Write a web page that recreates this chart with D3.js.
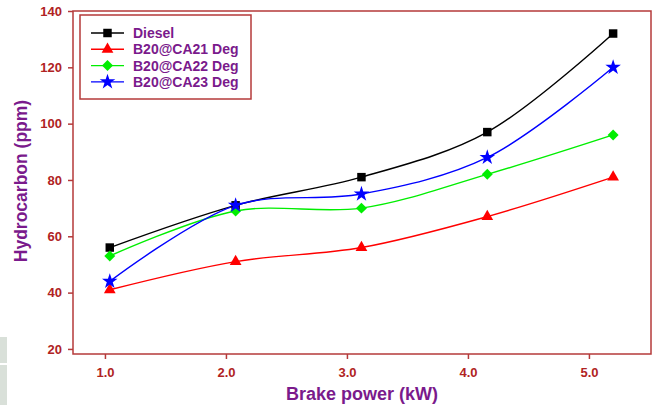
<!DOCTYPE html>
<html><head><meta charset="utf-8">
<script src="https://cdn.jsdelivr.net/npm/d3@7/dist/d3.min.js"></script>
<style>body{margin:0;background:#fff}svg{display:block}</style>
</head><body><svg id="c" width="656" height="405"></svg>
<script>
const brakePower = [1.04, 2.08, 3.12, 4.16, 5.2];
const diesel = [56, 71, 81, 97, 132];
const ca21 = [41, 51, 56, 67, 81];
const ca22 = [53, 69, 70, 82, 96];
const ca23 = [44, 71, 75, 88, 120];
const seriesNames = ["Diesel", "B20@CA21 Deg", "B20@CA22 Deg", "B20@CA23 Deg"];
const seriesColors = ["#000000", "#ff0000", "#00ee00", "#0000ff"];
const xTicks = [1, 2, 3, 4, 5];
const yTicks = [20, 40, 60, 80, 100, 120, 140];

const diamondSym = { draw(ctx, size) { const r = Math.sqrt(size/2); ctx.moveTo(0,-r); ctx.lineTo(r,0); ctx.lineTo(0,r); ctx.lineTo(-r,0); ctx.closePath(); } };
const seriesSymbols = [d3.symbolSquare, d3.symbolTriangle, diamondSym, d3.symbolStar];
const sizes = [72, 60, 60, 75];

const svg = d3.select("#c");
const frameCol = "#b53a3a", tickCol = "#b02323", titleCol = "#7a1a8c";
const font = "Liberation Sans, Arial, sans-serif";
const L = 73, R = 651, T = 11, B = 354;
const x = d3.scaleLinear().domain([0.736, 5.513]).range([L, R]);
const y = d3.scaleLinear().domain([18.2, 140]).range([B, T]);

svg.append("rect").attr("x",0).attr("y",337).attr("width",7).attr("height",26).attr("fill","#d9e0d9");
svg.append("rect").attr("x",0).attr("y",365).attr("width",7).attr("height",40).attr("fill","#d9e0d9");

svg.append("rect").attr("x",L).attr("y",T).attr("width",R-L).attr("height",B-T)
  .attr("fill","none").attr("stroke",frameCol).attr("stroke-width",1.5);

const xa = svg.append("g").attr("transform",`translate(0,${B})`)
  .call(d3.axisBottom(x).tickValues(xTicks).tickFormat(d3.format(".1f")).tickSize(5).tickSizeOuter(0).tickPadding(9));
const ya = svg.append("g").attr("transform",`translate(${L},0)`)
  .call(d3.axisLeft(y).tickValues(yTicks).tickSize(5).tickSizeOuter(0).tickPadding(6));
[xa, ya].forEach(a => {
  a.select(".domain").remove();
  a.selectAll("line").attr("stroke",frameCol).attr("stroke-width",1.5);
  a.selectAll("text").attr("fill",tickCol).attr("font-family",font)
    .attr("font-weight","bold").attr("font-size",13);
});

svg.append("text").attr("x",362).attr("y",400).attr("text-anchor","middle")
  .attr("fill",titleCol).attr("font-family",font)
  .attr("font-weight","bold").attr("font-size",18).text("Brake power (kW)");
svg.append("text").attr("transform","translate(27,181) rotate(-90)").attr("text-anchor","middle")
  .attr("fill",titleCol).attr("font-family",font)
  .attr("font-weight","bold").attr("font-size",17.5).text("Hydrocarbon (ppm)");

const allSeries = [diesel, ca21, ca22, ca23];
const line = d3.line().x((d,i)=>x(brakePower[i])).y(d=>y(d)).curve(d3.curveCatmullRom.alpha(0.5));
allSeries.forEach((s, k) => {
  svg.append("path").attr("d", line(s)).attr("fill","none").attr("stroke",seriesColors[k]).attr("stroke-width",1.4);
});
allSeries.forEach((s, k) => {
  svg.selectAll(null).data(s).enter().append("path")
    .attr("transform",(d,i)=>`translate(${x(brakePower[i])},${y(d)})`)
    .attr("d", d3.symbol().type(seriesSymbols[k]).size(sizes[k])())
    .attr("fill", seriesColors[k]);
});

const lg = svg.append("g");
lg.append("rect").attr("x",80).attr("y",15).attr("width",171).attr("height",84)
  .attr("fill","white").attr("stroke",frameCol).attr("stroke-width",1.5);
seriesNames.forEach((n, k) => {
  const yy = 33 + k*16.3;
  lg.append("line").attr("x1",91).attr("x2",124).attr("y1",yy).attr("y2",yy).attr("stroke",seriesColors[k]).attr("stroke-width",1.4);
  lg.append("path").attr("transform",`translate(107.5,${yy})`).attr("d",d3.symbol().type(seriesSymbols[k]).size(sizes[k])()).attr("fill",seriesColors[k]);
  lg.append("text").attr("x",133).attr("y",yy+5).attr("fill",titleCol)
    .attr("font-family",font).attr("font-weight","bold").attr("font-size",14).text(n);
});
</script></body></html>
